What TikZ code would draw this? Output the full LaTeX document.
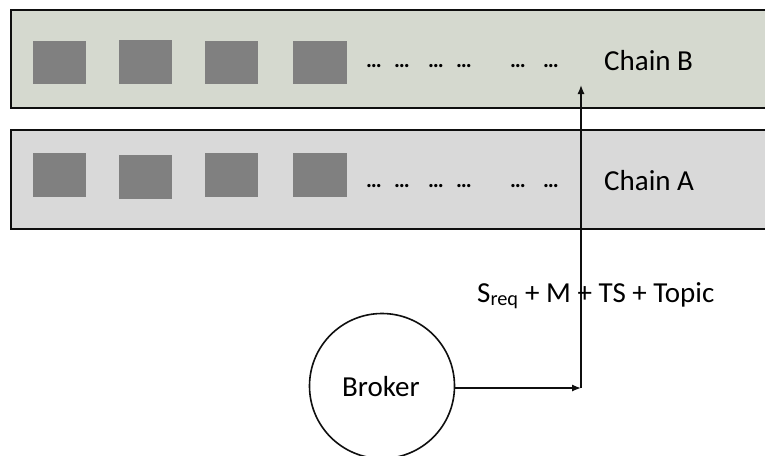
\documentclass[tikz,border=0pt]{standalone}
\usepackage{fontspec}
\setmainfont{Carlito}
\usetikzlibrary{arrows.meta}

\definecolor{chainBfill}{RGB}{213,217,207}
\definecolor{chainAfill}{RGB}{217,217,217}
\definecolor{blockgray}{RGB}{128,128,128}
\definecolor{inkdark}{RGB}{15,15,15}

\tikzset{
  chainbox/.style={draw=inkdark, line width=2pt, rectangle},
  block/.style={fill=blockgray, draw=none, rectangle, inner sep=0pt},
  dots/.style={font=\bfseries\fontsize{22}{24}\selectfont, inner sep=0pt, anchor=base west},
  label/.style={font=\fontsize{29}{32}\selectfont, inner sep=0pt, anchor=base west},
  flow/.style={draw=inkdark, line width=1.3pt, -{Latex[length=9pt,width=7pt]}},
}

\begin{document}
\begin{tikzpicture}[x=1pt,y=-1pt]
  \clip (0,0) rectangle (765,455);
  \fill[white] (0,0) rectangle (765,455);

  % the two chains, running off the right edge
  \draw[chainbox, fill=chainBfill] (11,10) rectangle (780,108);
  \draw[chainbox, fill=chainAfill] (11,130) rectangle (780,229);

  % blocks of chain B
  \node[block, minimum width=53, minimum height=43] (b1) at (59.5,62) {};
  \node[block, minimum width=53, minimum height=44] (b2) at (145.5,62) {};
  \node[block, minimum width=53, minimum height=43] (b3) at (231.5,62) {};
  \node[block, minimum width=54, minimum height=43] (b4) at (320,62) {};

  % blocks of chain A
  \node[block, minimum width=53, minimum height=44] (a1) at (59.5,175) {};
  \node[block, minimum width=53, minimum height=44] (a2) at (145.5,177) {};
  \node[block, minimum width=53, minimum height=44] (a3) at (231.5,175) {};
  \node[block, minimum width=54, minimum height=44] (a4) at (320,175) {};

  % ellipses after the blocks
  \foreach \x/\n in {366/1,394/2,428/3,456/4,510/5,543/6}{
    \node[dots] (db\n) at (\x,67) {…};
    \node[dots] (da\n) at (\x,187) {…};
  }

  \node[label] (chainB) at (604,70) {Chain B};
  \node[label] (chainA) at (604,190) {Chain A};

  % broker and the message it sends to chain B
  \node[draw=inkdark, line width=1.6pt, circle, minimum size=145, inner sep=0pt] (broker) at (382,386) {};
  \node[label] (brokertext) at (342,396) {Broker};

  \coordinate (corner) at (581,388);
  \coordinate (target) at (581,85);
  \draw[flow] (broker.east |- corner) -- (corner);
  \draw[flow] (corner) -- (target);

  \node[label] (msg) at (477,302) {S\textsubscript{req} + M + TS + Topic};
\end{tikzpicture}
\end{document}
